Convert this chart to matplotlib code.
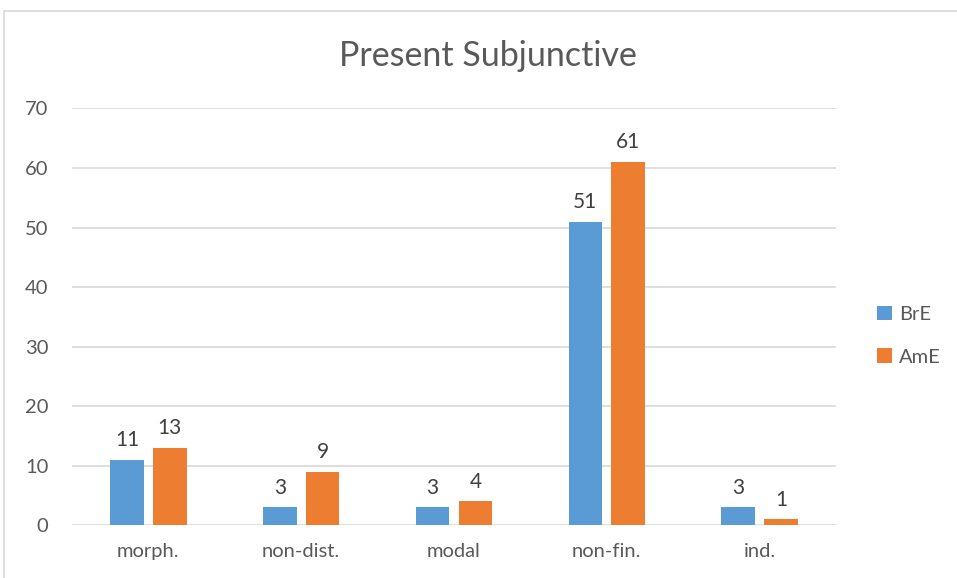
import numpy as np
import matplotlib
matplotlib.use('Agg')
import matplotlib.pyplot as plt
from matplotlib.patches import Rectangle

plt.rcParams['font.family'] = ['Lato', 'DejaVu Sans']

categories = ['morph.', 'non-dist.', 'modal', 'non-fin.', 'ind.']
bre = [11, 3, 3, 51, 3]
ame = [13, 9, 4, 61, 1]
yticks = [0, 10, 20, 30, 40, 50, 60, 70]

BLUE = '#5B9BD5'
ORANGE = '#ED7D31'
GRID = '#D9D9D9'
TXT = '#595959'

fig = plt.figure(figsize=(9.57, 5.78), dpi=100)
ax = fig.add_axes([0.0752, 0.0912, 0.7983, 0.7211])

# chart area border (runs off the right and bottom edges)
fig.patches.append(Rectangle((4 / 957, -0.1), 1.2, 1.0 - 11 / 578 + 0.1,
                             transform=fig.transFigure, fill=False,
                             ec=GRID, lw=1.2))

x = np.arange(len(categories))
w = 0.22
off = 0.14
b1 = ax.bar(x - off, bre, w, color=BLUE, label='BrE', zorder=3)
b2 = ax.bar(x + off, ame, w, color=ORANGE, label='AmE', zorder=3)

for bars, vals in ((b1, bre), (b2, ame)):
    for r, v in zip(bars, vals):
        ax.annotate(str(v), (r.get_x() + r.get_width() / 2, v),
                    xytext=(0, 7), textcoords='offset points',
                    ha='center', va='bottom', fontsize=15, color='#404040')

ax.set_xlim(-0.5, len(categories) - 0.5)
ax.set_ylim(0, 70)
ax.set_yticks(yticks)
ax.set_xticks(x)
ax.set_xticklabels(categories)
ax.tick_params(axis='both', length=0, labelsize=14.5, labelcolor=TXT)
ax.tick_params(axis='x', pad=13)
ax.tick_params(axis='y', pad=17)
ax.grid(True, axis='y', color=GRID, lw=1.2, zorder=0)
for s in ax.spines.values():
    s.set_visible(False)

fig.text(0.51, 0.903, 'Present Subjunctive', ha='center', va='center',
         fontsize=24.5, color=TXT)

ax.legend(loc='center left', bbox_to_anchor=(1.03, 0.455), frameon=False,
          fontsize=14.5, labelcolor=TXT, handlelength=0.75, handleheight=0.75,
          handletextpad=0.35, labelspacing=1.25)

fig.savefig('out.png', dpi=100)
